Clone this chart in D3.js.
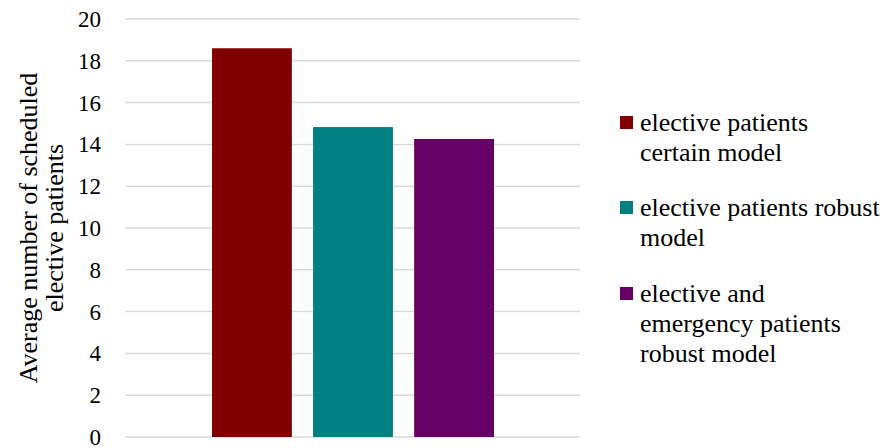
<!DOCTYPE html>
<meta charset="utf-8">
<body style="margin:0">
<script src="https://d3js.org/d3.v7.min.js"></script>
<script>
// data
const series = ["elective patients certain model", "elective patients robust model", "elective and emergency patients robust model"];
const values = [18.6, 14.83, 14.26];
const colors = ["#800000", "#008080", "#660066"];
const yTicks = [0, 2, 4, 6, 8, 10, 12, 14, 16, 18, 20];
// legend lines as wrapped in the original
const legendLines = [["elective patients", "certain model"], ["elective patients robust", "model"], ["elective and", "emergency patients", "robust model"]];
const titleLines = ["Average number of scheduled", "elective patients"];

const W = 889, H = 448;
const margin = {top: 19, left: 125, right: 309, bottom: 11};
const font = "'Liberation Serif'";

const svg = d3.select("body").append("svg")
    .attr("width", W)
    .attr("height", H);

const y = d3.scaleLinear()
    .domain([0, 20])
    .range([H - margin.bottom, margin.top]);

const x = d3.scaleBand()
    .domain(series)
    .range([212, 494])
    .paddingInner(0.21);

// gridlines
svg.append("g")
  .selectAll("line")
  .data(yTicks)
  .join("line")
    .attr("x1", margin.left)
    .attr("x2", W - margin.right)
    .attr("y1", d => y(d))
    .attr("y2", d => y(d))
    .attr("stroke", "#d9d9d9")
    .attr("stroke-width", 1.5);

// y tick labels, drawn as plain texts from the scale
svg.append("g")
  .selectAll("text")
  .data(yTicks)
  .join("text")
    .attr("x", 101)
    .attr("y", d => y(d) + 8)
    .attr("text-anchor", "end")
    .attr("font-family", font)
    .attr("font-size", 23)
    .text(d => d);

// bars
svg.append("g")
  .selectAll("rect")
  .data(values)
  .join("rect")
    .attr("x", (d, i) => x(series[i]))
    .attr("y", d => y(d))
    .attr("width", x.bandwidth())
    .attr("height", d => y(0) - y(d))
    .attr("fill", (d, i) => colors[i]);

// y title, one text per line
const ty = (y(0) + y(20)) / 2;
titleLines.forEach((l, j) => {
  svg.append("text")
      .attr("transform", "translate(" + (37 + j * 26) + "," + ty + ") rotate(-90)")
      .attr("text-anchor", "middle")
      .attr("font-family", font)
      .attr("font-size", 26)
      .text(l);
});

// legend
const legBase = [131, 216, 302];
legendLines.forEach((lines, i) => {
  svg.append("rect")
      .attr("x", 620)
      .attr("y", legBase[i] - 15)
      .attr("width", 13)
      .attr("height", 13)
      .attr("fill", colors[i]);
  lines.forEach((l, j) => {
    svg.append("text")
        .attr("x", 640)
        .attr("y", legBase[i] + j * 30)
        .attr("font-family", font)
        .attr("font-size", 26)
        .text(l);
  });
});
</script>
</body>
